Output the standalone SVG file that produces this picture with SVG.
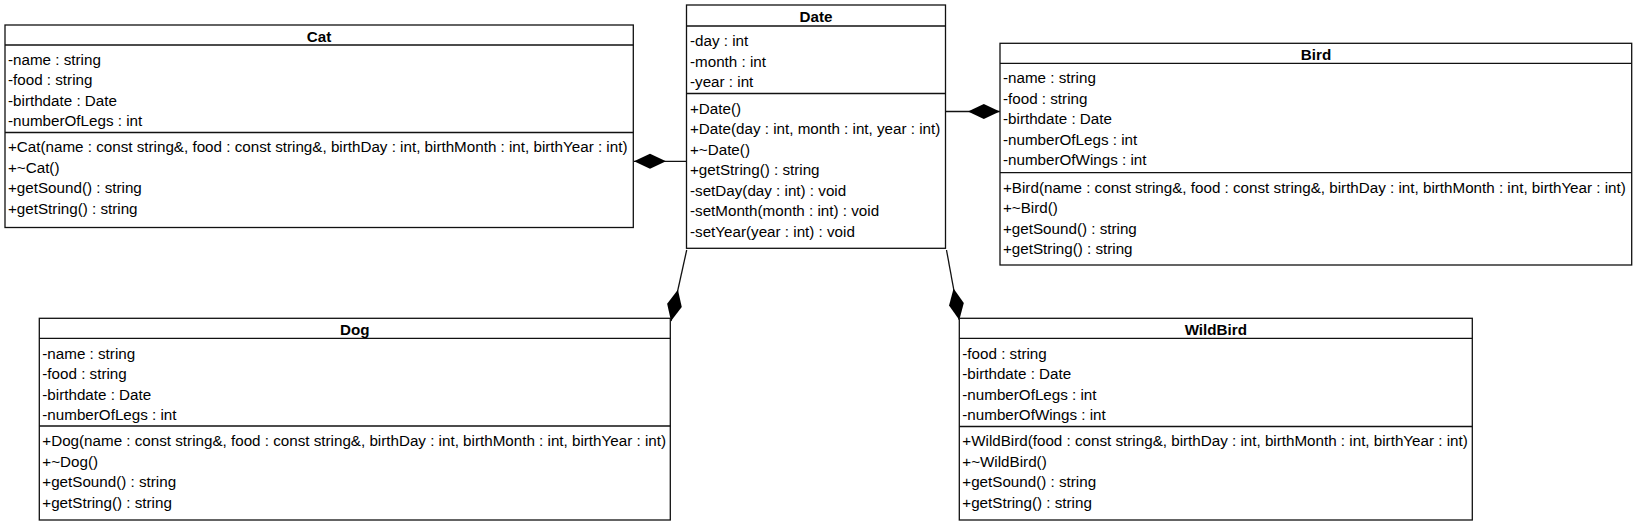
<svg xmlns="http://www.w3.org/2000/svg" width="1635" height="526" viewBox="0 0 1635 526">
<style>
  .box { fill: #ffffff; stroke: #111111; stroke-width: 1.3; }
  .sep { stroke: #111111; stroke-width: 1.3; }
  .t { font-family: "Liberation Sans", Arial, sans-serif; font-size: 15.2px; fill: #000000; }
  .title { font-family: "Liberation Sans", Arial, sans-serif; font-size: 15.2px; font-weight: bold; fill: #000000; text-anchor: middle; }
  .conn { fill: none; stroke: #111111; stroke-width: 1.3; marker-end: url(#diamond); }
</style>
<defs>
  <marker id="diamond" viewBox="0 -8 33 16" refX="32" refY="0" markerWidth="33" markerHeight="16" markerUnits="userSpaceOnUse" orient="auto">
    <path d="M0,0 L16,-7.5 L32,0 L16,7.5 Z" fill="#000000"/>
  </marker>
</defs>
<rect width="1635" height="526" fill="#ffffff"/>

<g id="connectors">
  <path class="conn" d="M686.5,161.3 L634,161.3"/>
  <path class="conn" d="M945.5,111.5 L999.8,111.5"/>
  <path class="conn" d="M686.7,250 L671,321"/>
  <path class="conn" d="M946.5,250 L959.3,320"/>
</g>

<g id="Cat">
  <rect class="box" x="5" y="25" width="628.3" height="202.5"/>
  <line class="sep" x1="5" y1="45" x2="633.3" y2="45"/>
  <line class="sep" x1="5" y1="132.5" x2="633.3" y2="132.5"/>
  <text class="title" x="319" y="42">Cat</text>
  <text class="t" x="8" y="64.5">-name : string</text>
  <text class="t" x="8" y="85">-food : string</text>
  <text class="t" x="8" y="105.5">-birthdate : Date</text>
  <text class="t" x="8" y="126">-numberOfLegs : int</text>
  <text class="t" x="8" y="152">+Cat(name : const string&amp;, food : const string&amp;, birthDay : int, birthMonth : int, birthYear : int)</text>
  <text class="t" x="8" y="172.5">+~Cat()</text>
  <text class="t" x="8" y="193">+getSound() : string</text>
  <text class="t" x="8" y="213.5">+getString() : string</text>
</g>

<g id="Date">
  <rect class="box" x="686.5" y="5" width="259" height="243.3"/>
  <line class="sep" x1="686.5" y1="26" x2="945.5" y2="26"/>
  <line class="sep" x1="686.5" y1="93.5" x2="945.5" y2="93.5"/>
  <text class="title" x="816" y="22">Date</text>
  <text class="t" x="690" y="46">-day : int</text>
  <text class="t" x="690" y="66.5">-month : int</text>
  <text class="t" x="690" y="87">-year : int</text>
  <text class="t" x="690" y="113.5">+Date()</text>
  <text class="t" x="690" y="134">+Date(day : int, month : int, year : int)</text>
  <text class="t" x="690" y="154.5">+~Date()</text>
  <text class="t" x="690" y="175">+getString() : string</text>
  <text class="t" x="690" y="195.5">-setDay(day : int) : void</text>
  <text class="t" x="690" y="216">-setMonth(month : int) : void</text>
  <text class="t" x="690" y="236.5">-setYear(year : int) : void</text>
</g>

<g id="Bird">
  <rect class="box" x="1000" y="43.3" width="631.7" height="221.7"/>
  <line class="sep" x1="1000" y1="63.3" x2="1631.7" y2="63.3"/>
  <line class="sep" x1="1000" y1="172.7" x2="1631.7" y2="172.7"/>
  <text class="title" x="1316" y="60.3">Bird</text>
  <text class="t" x="1003" y="83.3">-name : string</text>
  <text class="t" x="1003" y="103.8">-food : string</text>
  <text class="t" x="1003" y="124.3">-birthdate : Date</text>
  <text class="t" x="1003" y="144.8">-numberOfLegs : int</text>
  <text class="t" x="1003" y="165.3">-numberOfWings : int</text>
  <text class="t" x="1003" y="192.7">+Bird(name : const string&amp;, food : const string&amp;, birthDay : int, birthMonth : int, birthYear : int)</text>
  <text class="t" x="1003" y="213.3">+~Bird()</text>
  <text class="t" x="1003" y="234">+getSound() : string</text>
  <text class="t" x="1003" y="254.3">+getString() : string</text>
</g>

<g id="Dog">
  <rect class="box" x="39.3" y="318.3" width="631" height="201.7"/>
  <line class="sep" x1="39.3" y1="338.3" x2="670.3" y2="338.3"/>
  <line class="sep" x1="39.3" y1="426" x2="670.3" y2="426"/>
  <text class="title" x="354.8" y="335.3">Dog</text>
  <text class="t" x="42.3" y="358.5">-name : string</text>
  <text class="t" x="42.3" y="379">-food : string</text>
  <text class="t" x="42.3" y="399.5">-birthdate : Date</text>
  <text class="t" x="42.3" y="420">-numberOfLegs : int</text>
  <text class="t" x="42.3" y="446">+Dog(name : const string&amp;, food : const string&amp;, birthDay : int, birthMonth : int, birthYear : int)</text>
  <text class="t" x="42.3" y="466.5">+~Dog()</text>
  <text class="t" x="42.3" y="487">+getSound() : string</text>
  <text class="t" x="42.3" y="507.5">+getString() : string</text>
</g>

<g id="WildBird">
  <rect class="box" x="959.3" y="318.3" width="513" height="201.7"/>
  <line class="sep" x1="959.3" y1="338.3" x2="1472.3" y2="338.3"/>
  <line class="sep" x1="959.3" y1="426.5" x2="1472.3" y2="426.5"/>
  <text class="title" x="1215.8" y="335.3">WildBird</text>
  <text class="t" x="962.3" y="358.5">-food : string</text>
  <text class="t" x="962.3" y="379">-birthdate : Date</text>
  <text class="t" x="962.3" y="399.5">-numberOfLegs : int</text>
  <text class="t" x="962.3" y="420">-numberOfWings : int</text>
  <text class="t" x="962.3" y="446">+WildBird(food : const string&amp;, birthDay : int, birthMonth : int, birthYear : int)</text>
  <text class="t" x="962.3" y="466.5">+~WildBird()</text>
  <text class="t" x="962.3" y="487">+getSound() : string</text>
  <text class="t" x="962.3" y="507.5">+getString() : string</text>
</g>
</svg>
